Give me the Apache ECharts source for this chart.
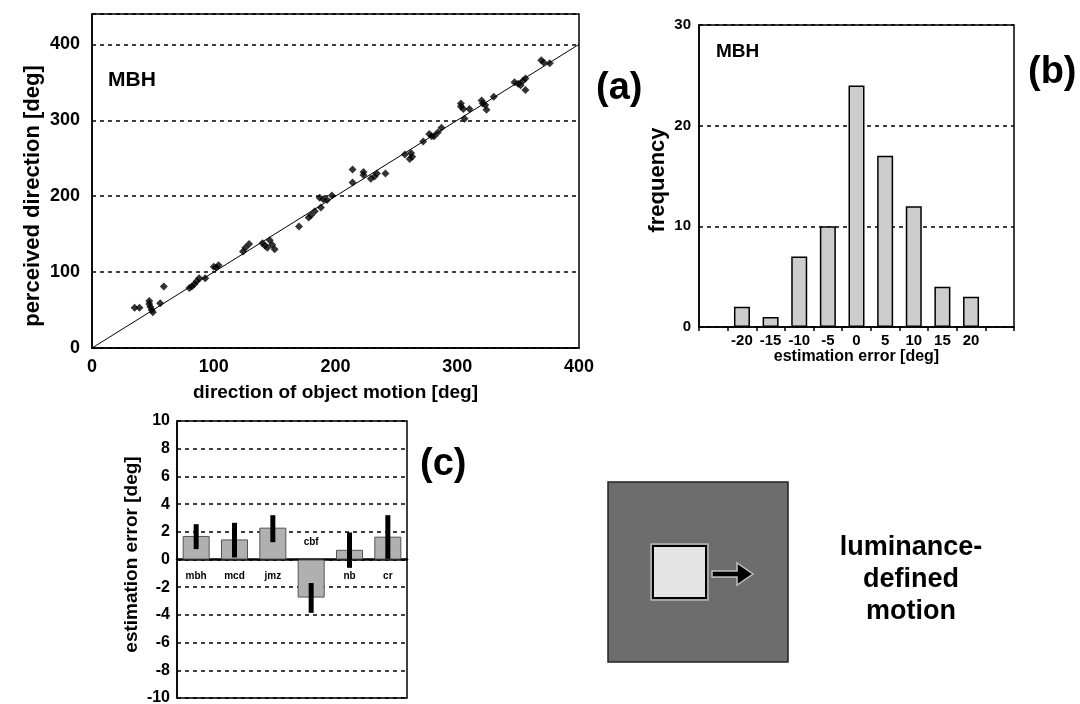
<!DOCTYPE html>
<html>
<head>
<meta charset="utf-8">
<title>Direction estimates - luminance-defined motion</title>
<script src="https://cdn.jsdelivr.net/npm/echarts@6/dist/echarts.min.js"></script>
<style>
  html, body { margin: 0; padding: 0; background: #fff; }
  #chart { width: 1080px; height: 704px; }
</style>
</head>
<body>
<div id="chart"></div>
<script>
// (a) subject MBH: actual vs perceived direction
var motionDir = [35, 39, 47, 47, 48, 49, 50, 56, 59,
  80, 82, 84, 86, 88, 93, 100, 102, 104,
  124, 126, 129, 140, 142, 144, 146, 148, 150,
  170, 178, 180, 183, 188, 187, 190, 193, 197,
  214, 214, 223, 223, 229, 232, 234, 241,
  257, 262, 263, 261, 272, 277, 279, 281, 284, 287,
  303, 303, 305, 310, 306, 320, 321, 323, 324, 330,
  347, 350, 352, 354, 356, 356, 369, 371, 376]
var perceivedDir = [53, 53, 62, 58, 54, 50, 47, 59, 81,
  79, 81, 84, 88, 92, 92, 107, 106, 109,
  127, 132, 137, 138, 135, 132, 142, 136, 130,
  160, 172, 175, 180, 185, 198, 196, 195, 201,
  235, 218, 232, 228, 223, 226, 230, 230,
  255, 257, 252, 249, 272, 282, 279, 279, 284, 290,
  322, 318, 315, 315, 302, 326, 322, 320, 314, 331,
  350, 348, 346, 352, 355, 340, 379, 376, 375]
var identityLine = [[0, 0], [400, 400]]

// (b) histogram of estimation errors
var errorBins = ['', '-20', '-15', '-10', '-5', '0', '5', '10', '15', '20', '']
var frequency = ['-', 2, 1, 7, 10, 24, 17, 12, 4, 3, '-']

// (c) mean estimation error per subject
var subjects = ['mbh', 'mcd', 'jmz', 'cbf', 'nb', 'cr']
var meanError = [1.7, 1.45, 2.3, -2.75, 0.7, 1.65]
var errLow = [0.75, 0.15, 1.25, -3.85, -0.6, 0.05]
var errHigh = [2.55, 2.65, 3.2, -1.7, 1.95, 3.2]

var FONT = '"Liberation Sans", Arial, Helvetica, sans-serif'
var dashed = { show: true, lineStyle: { color: '#000', width: 1.5, type: [4, 4] } }
var blackLine = { show: true, lineStyle: { color: '#000', width: 1.5 } }

function tickFont(size) {
  return { color: '#000', fontFamily: FONT, fontWeight: 'bold', fontSize: size }
}

var chart = echarts.init(document.getElementById('chart'), null, { renderer: 'canvas' })

chart.setOption({
  backgroundColor: '#fff',
  animation: false,
  grid: [
    { left: 92, top: 14, width: 487, height: 334, show: true, borderColor: '#000', borderWidth: 1.5, containLabel: false, outerBoundsMode: 'none' },
    { left: 699, top: 25, width: 315, height: 302, show: true, borderColor: '#000', borderWidth: 1.5, containLabel: false, outerBoundsMode: 'none' },
    { left: 177, top: 421, width: 230, height: 277, show: true, borderColor: '#000', borderWidth: 1.5, containLabel: false, outerBoundsMode: 'none' }
  ],
  xAxis: [
    {
      gridIndex: 0, type: 'value', min: 0, max: 400, interval: 100,
      axisLine: blackLine, axisTick: { show: false }, splitLine: { show: false },
      axisLabel: Object.assign({ margin: 10 }, tickFont(18)),
      name: 'direction of object motion [deg]', nameLocation: 'middle', nameGap: 35,
      nameTextStyle: tickFont(19)
    },
    {
      gridIndex: 1, type: 'category', data: errorBins,
      axisLine: blackLine,
      axisTick: { show: true, length: 4, lineStyle: { color: '#000', width: 1.5 } },
      axisLabel: Object.assign({ interval: 0, margin: 6 }, tickFont(15)),
      name: 'estimation error [deg]', nameLocation: 'middle', nameGap: 18,
      nameTextStyle: tickFont(16)
    },
    {
      gridIndex: 2, type: 'category', data: subjects,
      axisLine: { show: true, onZero: true, lineStyle: { color: '#000', width: 2.5 } },
      axisTick: { show: false }, axisLabel: { show: false }
    }
  ],
  yAxis: [
    {
      gridIndex: 0, type: 'value', min: 0, max: 440, interval: 100,
      axisLine: blackLine, axisTick: { show: false }, splitLine: dashed,
      axisLabel: Object.assign({
        margin: 12,
        formatter: function (v) { return v % 100 === 0 ? String(v) : '' }
      }, tickFont(18)),
      name: 'perceived direction [deg]', nameLocation: 'middle', nameGap: 48, nameRotate: 90,
      nameTextStyle: Object.assign({ padding: [0, 30, 0, 0] }, tickFont(22))
    },
    {
      gridIndex: 1, type: 'value', min: 0, max: 30, interval: 10,
      axisLine: blackLine, axisTick: { show: false }, splitLine: dashed,
      axisLabel: Object.assign({ margin: 8 }, tickFont(15)),
      name: 'frequency', nameLocation: 'middle', nameGap: 30, nameRotate: 90,
      nameTextStyle: Object.assign({ padding: [0, 8, 0, 0] }, tickFont(22))
    },
    {
      gridIndex: 2, type: 'value', min: -10, max: 10, interval: 2,
      axisLine: blackLine, axisTick: { show: false }, splitLine: dashed,
      axisLabel: Object.assign({ margin: 7 }, tickFont(16)),
      name: 'estimation error [deg]', nameLocation: 'middle', nameGap: 36, nameRotate: 90,
      nameTextStyle: Object.assign({ padding: [0, 0, 0, 10] }, tickFont(19))
    }
  ],
  series: [
    {
      type: 'line', xAxisIndex: 0, yAxisIndex: 0, data: identityLine,
      showSymbol: false, silent: true, z: 2,
      lineStyle: { color: '#000', width: 1 }
    },
    {
      type: 'scatter', xAxisIndex: 0, yAxisIndex: 0,
      data: motionDir.map(function (x, i) { return [x, perceivedDir[i]] }),
      symbol: 'diamond', symbolSize: 8, z: 3,
      itemStyle: { color: '#000' }
    },
    {
      type: 'bar', xAxisIndex: 1, yAxisIndex: 1, data: frequency, barWidth: 16,
      itemStyle: { color: '#cdcdcd', borderColor: '#000', borderWidth: 1.5 }
    },
    {
      type: 'bar', xAxisIndex: 2, yAxisIndex: 2, barWidth: 27,
      itemStyle: { color: '#b0b0b0', borderColor: '#555', borderWidth: 1 },
      data: meanError.map(function (v) {
        return {
          value: v,
          label: { position: v >= 0 ? 'bottom' : 'top' }
        }
      }),
      label: {
        show: true, distance: 12, color: '#000', fontFamily: FONT, fontWeight: 'bold', fontSize: 10,
        formatter: function (p) { return subjects[p.dataIndex] }
      }
    },
    {
      type: 'custom', xAxisIndex: 2, yAxisIndex: 2, z: 5,
      data: subjects.map(function (s, i) { return [i, errLow[i], errHigh[i]] }),
      renderItem: function (params, api) {
        var lo = api.coord([api.value(0), api.value(1)])
        var hi = api.coord([api.value(0), api.value(2)])
        return {
          type: 'line',
          shape: { x1: lo[0], y1: lo[1], x2: hi[0], y2: hi[1] },
          style: { stroke: '#000', lineWidth: 5 }
        }
      }
    }
  ],
  graphic: {
    elements: [
      { type: 'text', left: 108, top: 70, style: { text: 'MBH', fill: '#000', font: 'bold 21px ' + FONT } },
      { type: 'text', left: 596, top: 70, style: { text: '(a)', fill: '#000', font: 'bold 38px ' + FONT } },
      { type: 'text', left: 716, top: 42, style: { text: 'MBH', fill: '#000', font: 'bold 19px ' + FONT } },
      { type: 'text', left: 1028, top: 54, style: { text: '(b)', fill: '#000', font: 'bold 38px ' + FONT } },
      { type: 'text', left: 420, top: 446, style: { text: '(c)', fill: '#000', font: 'bold 38px ' + FONT } },
      // stimulus sketch
      { type: 'rect', shape: { x: 608, y: 482, width: 180, height: 180 },
        style: { fill: '#6d6d6d', stroke: '#222', lineWidth: 1.5 } },
      { type: 'rect', shape: { x: 651, y: 544, width: 57, height: 56 },
        style: { fill: 'none', stroke: '#b8b8b8', lineWidth: 1.5 } },
      { type: 'rect', shape: { x: 653, y: 546, width: 53, height: 52 },
        style: { fill: '#e4e4e4', stroke: '#000', lineWidth: 2 } },
      { type: 'polygon', shape: { points: [[712, 571], [737, 571], [737, 563], [753, 574], [737, 585], [737, 577], [712, 577]] },
        style: { fill: '#000', stroke: '#c0c0c0', lineWidth: 1.5 } },
      { type: 'text', x: 911, y: 580,
        style: { text: 'luminance-\ndefined\nmotion', fill: '#000', font: 'bold 27px ' + FONT,
          lineHeight: 32, align: 'center', verticalAlign: 'middle' } }
    ]
  }
})
</script>
</body>
</html>
